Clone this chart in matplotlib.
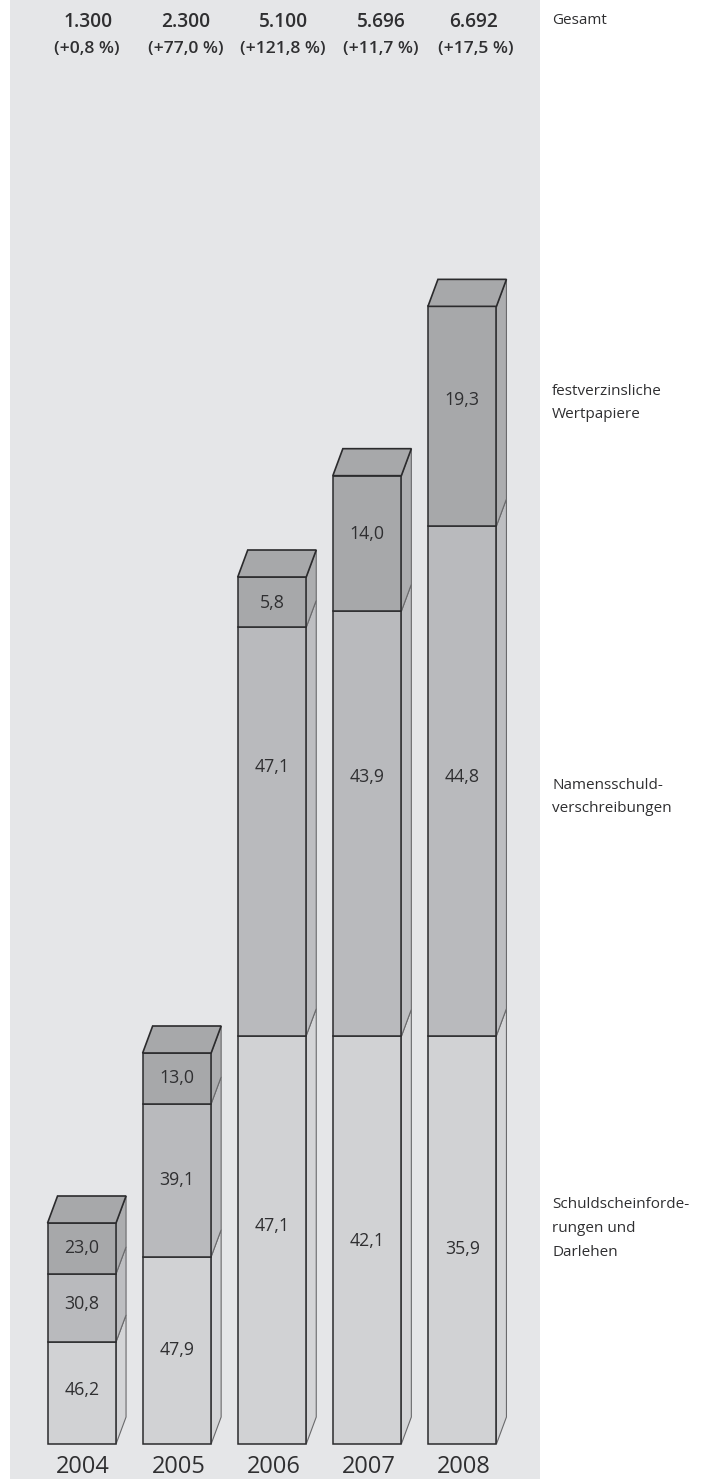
import matplotlib
matplotlib.use("Agg")
import matplotlib.pyplot as plt
from matplotlib.patches import Polygon, Rectangle

plt.rcParams['font.family'] = ['Open Sans', 'DejaVu Sans']

years = ['2004', '2005', '2006', '2007', '2008']
totals = [1300, 2300, 5100, 5696, 6692]
changes = ['(+0,8 %)', '(+77,0 %)', '(+121,8 %)', '(+11,7 %)', '(+17,5 %)']
schuldschein = [46.2, 47.9, 47.1, 42.1, 35.9]
namens = [30.8, 39.1, 47.1, 43.9, 44.8]
festverz = [23.0, 13.0, 5.8, 14.0, 19.3]

W, H = 708, 1479
BASE = 1444
PX_PER_UNIT = 0.17
STEP = 95.1
X0 = 81.8
BAR_W = 68.5 / STEP
DX = 10 / STEP
DY = 27 / PX_PER_UNIT

fig = plt.figure(figsize=(W / 100, H / 100), dpi=100, facecolor='white')
ax = fig.add_axes([0, 0, 1, 1])
ax.set_xlim(-X0 / STEP, (W - X0) / STEP)
ax.set_ylim(-(H - BASE) / PX_PER_UNIT, BASE / PX_PER_UNIT)
ax.axis('off')

ypx = lambda p: (BASE - p) / PX_PER_UNIT
xpx = lambda p: (p - X0) / STEP

ax.add_patch(Rectangle((xpx(10), ypx(H)), (530) / STEP, H / PX_PER_UNIT,
                       fc='#e5e6e8', ec='none', zorder=0))

series = [schuldschein, namens, festverz]
front = ['#d1d2d4', '#b9babd', '#a7a8aa']
side = ['#d4d5d7', '#bdbec1', '#acadaf']
EDGE = '#2b2b2d'

for i, total in enumerate(totals):
    bottom = 0.0
    for vals, fc, sc in zip(series, front, side):
        h = total * vals[i] / 100
        xr = i + BAR_W / 2
        ax.add_patch(Polygon([(xr, bottom), (xr + DX, bottom + DY),
                              (xr + DX, bottom + h + DY), (xr, bottom + h)],
                             closed=True, fc=sc, ec='#6a6a6c', lw=0.8, zorder=2))
        ax.bar(i, h, BAR_W, bottom=bottom, color=fc, edgecolor=EDGE, lw=1.1, zorder=3)
        bottom += h
    xl, xr = i - BAR_W / 2, i + BAR_W / 2
    ax.add_patch(Polygon([(xl, bottom), (xr, bottom), (xr + DX, bottom + DY), (xl + DX, bottom + DY)],
                         closed=True, fc=front[2], ec=EDGE, lw=1.2, zorder=4))

label_px = [[1390, 1304, 1248], [1350, 1180, 1078], [1226, 767, 603],
            [1241, 777, 534], [1249, 777, 400]]
head1_x = [88, 186, 284, 381, 474]
head2_x = [87, 186, 283, 381, 476]
text_c = '#2f2f31'
for i in range(5):
    for j, vals in enumerate(series):
        s = f'{vals[i]:.1f}'.replace('.', ',')
        ax.text(i, ypx(label_px[i][j]), s, ha='center', va='center',
                fontsize=12.8, color=text_c, zorder=5)
    ax.text(xpx(head1_x[i]), ypx(22), f'{totals[i]:,}'.replace(',', '.'), ha='center', va='center',
            fontsize=13.8, fontweight='semibold', color=text_c)
    ax.text(xpx(head2_x[i]), ypx(49), changes[i], ha='center', va='center',
            fontsize=12.6, fontweight='semibold', color=text_c)
    ax.text(i + 1.5 / STEP, ypx(1467), years[i], ha='center', va='center', fontsize=17, color=text_c)

side_labels = [(20, 'Gesamt'), (391, 'festverzinsliche'), (414, 'Wertpapiere'),
               (785, 'Namensschuld-'), (808, 'verschreibungen'),
               (1205, 'Schuldscheinforde-'), (1229, 'rungen und'), (1252, 'Darlehen')]
for y, s in side_labels:
    ax.text(xpx(552), ypx(y), s, ha='left', va='center', fontsize=11, color=text_c)

fig.savefig('out.png', dpi=100)
